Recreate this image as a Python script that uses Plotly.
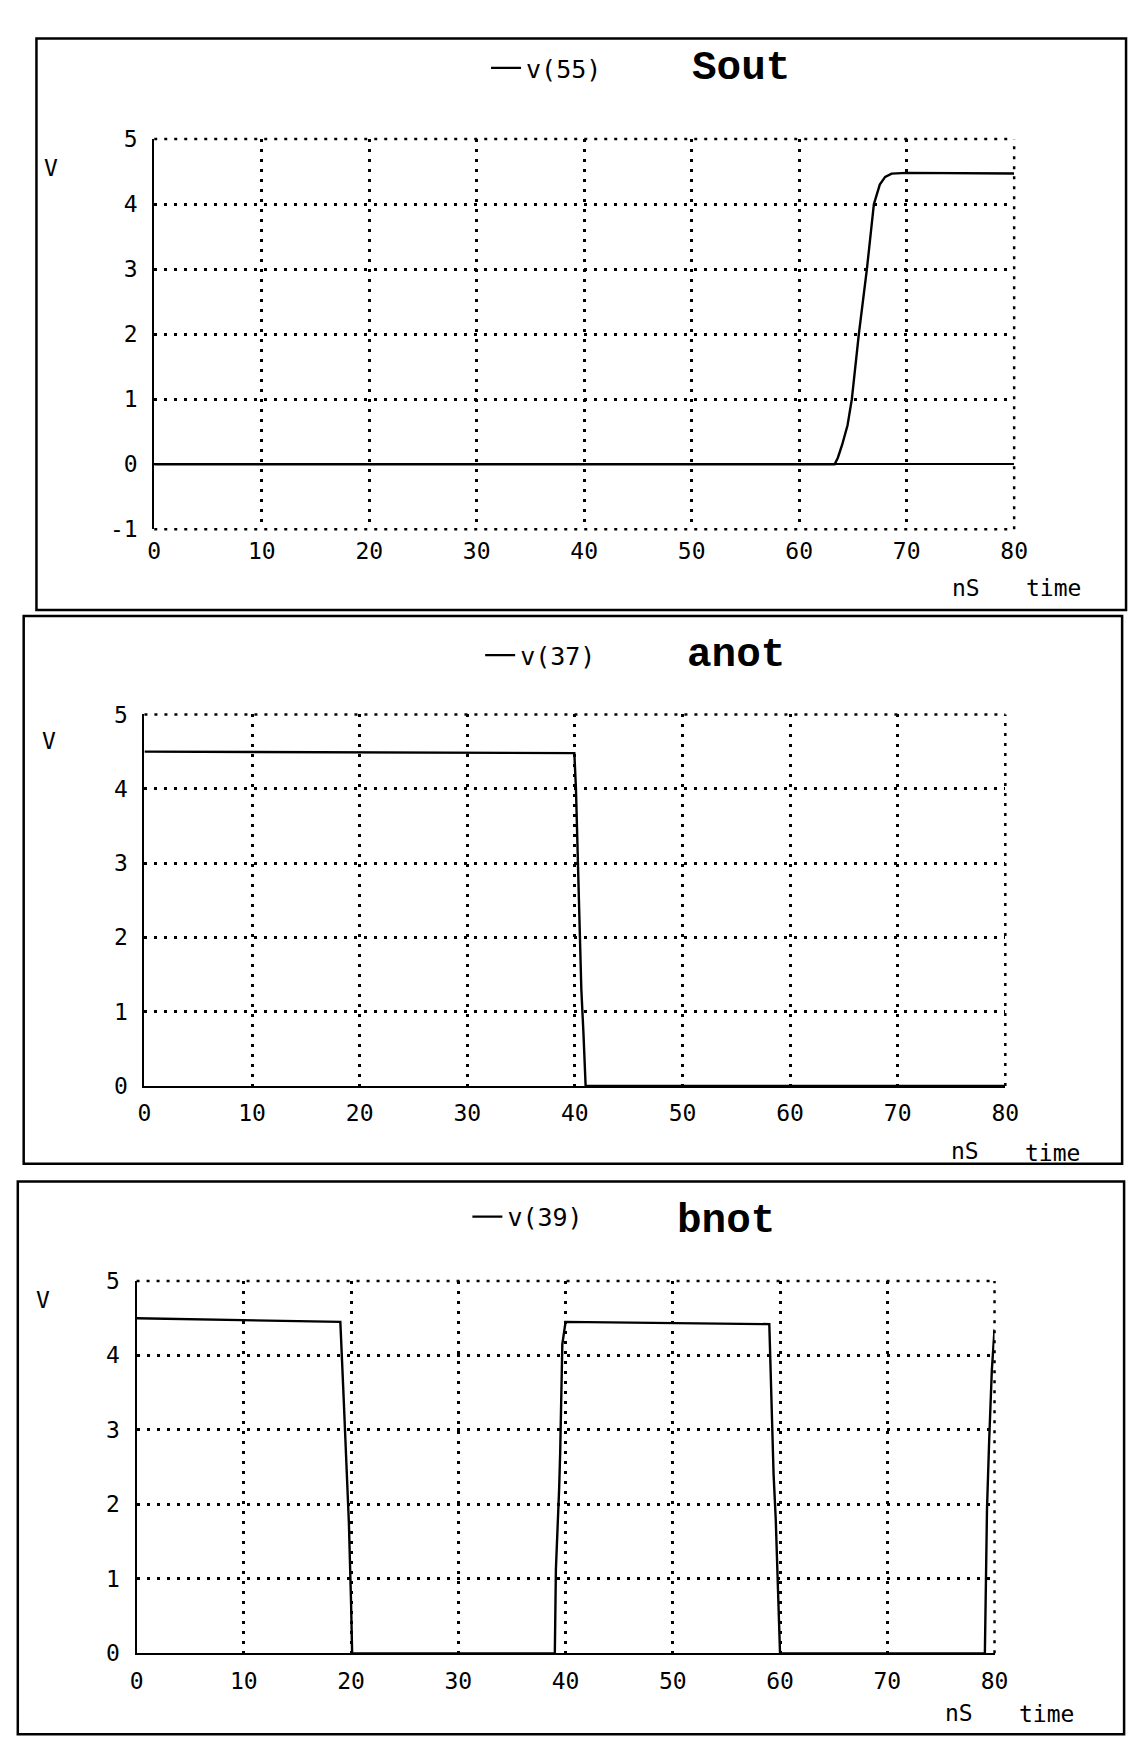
import plotly.graph_objects as go

W, H = 1143, 1756

# ---------------- data ----------------
# Panel 1: Sout, v(55)
t_v55 = [0, 63.3, 63.6, 64.0, 64.5, 64.9, 65.55, 66.3, 66.95, 67.5, 68.0, 68.6, 70.0, 80.0]
v_v55 = [0, 0.0, 0.1, 0.3, 0.6, 1.0, 2.0, 3.0, 4.0, 4.3, 4.42, 4.47, 4.48, 4.47]

# Panel 2: anot, v(37)
t_v37 = [0, 39.95, 40.1, 40.3, 40.5, 40.6, 40.8, 41.0, 80.0]
v_v37 = [4.5, 4.48, 4.0, 3.0, 2.0, 1.3, 0.7, 0.0, 0.0]

# Panel 3: bnot, v(39)
t_v39 = [0, 19.0, 19.3, 19.55, 19.8, 20.0, 20.1,
         39.0, 39.1, 39.4, 39.5, 39.7, 40.0,
         59.0, 59.2, 59.4, 59.6, 59.9, 60.0,
         79.1, 79.3, 79.5, 79.75, 80.0]
v_v39 = [4.5, 4.45, 3.46, 2.56, 1.74, 0.68, 0.0,
         0.0, 1.13, 2.2, 2.7, 4.15, 4.45,
         4.42, 3.35, 2.4, 1.8, 0.4, 0.0,
         0.0, 1.95, 2.85, 3.8, 4.35]

x_ticks = [0, 10, 20, 30, 40, 50, 60, 70, 80]
y_ticks_1 = [-1, 0, 1, 2, 3, 4, 5]
y_ticks_23 = [0, 1, 2, 3, 4, 5]

names = ["v(55)", "v(37)", "v(39)"]
titles = ["Sout", "anot", "bnot"]

# ---------------- layout geometry (pixels) ----------------
def px_x(p):
    return p / W

def px_y(p):
    return 1 - p / H

panels = [
    dict(x=(150, 1026), y=(128, 524), yr=[-1, 5], yt=y_ticks_1,
         frame=(30, 26, 1140, 606), leg=(488, 56), title=(696, 56),
         V=(45, 157), nS=(977, 584), time=(1066, 584)),
    dict(x=(140, 1017), y=(712, 1089), yr=[0, 5], yt=y_ticks_23,
         frame=(17, 612, 1136, 1168), leg=(482, 652), title=(691, 652),
         V=(43, 739), nS=(976, 1155), time=(1065, 1157)),
    dict(x=(132, 1006), y=(1287, 1665), yr=[0, 5], yt=y_ticks_23,
         frame=(11, 1186, 1138, 1747), leg=(469, 1222), title=(681, 1226),
         V=(37, 1306), nS=(970, 1726), time=(1059, 1727)),
]
series = [(t_v55, v_v55), (t_v37, v_v37), (t_v39, v_v39)]

MONO = "DejaVu Sans Mono"
DOT = "3px,7px"
GRID_W = 2.5

fig = go.Figure()
shapes = []
annotations = []
layout = dict(
    width=W, height=H,
    margin=dict(l=0, r=0, t=0, b=0),
    paper_bgcolor="white", plot_bgcolor="white",
    font=dict(family=MONO, size=23, color="black"),
)

for i, (p, (tt, vv)) in enumerate(zip(panels, series)):
    n = "" if i == 0 else str(i + 1)
    xa, ya = "x" + n, "y" + n
    leg = "legend" + n
    fig.add_trace(go.Scatter(
        x=tt, y=vv, mode="lines", name=names[i],
        line=dict(color="black", width=2.4, shape="linear"),
        xaxis=xa, yaxis=ya, legend=leg, showlegend=True,
    ))
    layout["xaxis" + n] = dict(
        domain=[px_x(p["x"][0]), px_x(p["x"][1])], anchor=ya,
        range=[0, 80], tickvals=x_ticks, ticktext=[str(v) for v in x_ticks],
        showgrid=True, gridcolor="black", gridwidth=GRID_W, griddash=DOT,
        zeroline=False, showline=(i != 0), linecolor="black", linewidth=2,
        ticks="", ticklabelstandoff=6, tickfont=dict(family=MONO, size=23),
        fixedrange=True,
    )
    layout["yaxis" + n] = dict(
        domain=[px_y(p["y"][1]), px_y(p["y"][0])], anchor=xa,
        range=p["yr"], tickvals=p["yt"], ticktext=[str(v) for v in p["yt"]],
        showgrid=True, gridcolor="black", gridwidth=GRID_W, griddash=DOT,
        zeroline=(i == 0), zerolinecolor="black", zerolinewidth=2,
        showline=True, linecolor="black", linewidth=2,
        ticks="", ticklabelstandoff=10, tickfont=dict(family=MONO, size=23),
        fixedrange=True,
    )
    # dotted border grid lines at the range ends (top, right, and bottom for panel 1)
    edge = dict(color="black", width=GRID_W, dash=DOT)
    shapes.append(dict(type="line", xref=xa + " domain", yref=ya + " domain",
                       x0=0, x1=1, y0=1, y1=1, line=edge, layer="below"))
    shapes.append(dict(type="line", xref=xa + " domain", yref=ya + " domain",
                       x0=1, x1=1, y0=0, y1=1, line=edge, layer="below"))
    if i == 0:
        shapes.append(dict(type="line", xref=xa + " domain", yref=ya + " domain",
                           x0=0, x1=1, y0=0, y1=0, line=edge, layer="below"))
    # panel frame
    fx0, fy0, fx1, fy1 = p["frame"]
    shapes.append(dict(type="rect", xref="paper", yref="paper",
                       x0=px_x(fx0), x1=px_x(fx1), y0=px_y(fy1), y1=px_y(fy0),
                       line=dict(color="black", width=2.5), fillcolor="rgba(0,0,0,0)"))
    # legend
    layout[leg] = dict(
        x=px_x(p["leg"][0]), y=px_y(p["leg"][1]), xanchor="left", yanchor="middle",
        bgcolor="rgba(0,0,0,0)", borderwidth=0, itemwidth=30,
        font=dict(family=MONO, size=25, color="black"),
    )
    # title
    annotations.append(dict(
        text=titles[i], xref="paper", yref="paper",
        x=px_x(p["title"][0]), y=px_y(p["title"][1]), xanchor="left", yanchor="middle",
        showarrow=False, font=dict(family="Liberation Mono", size=41, color="black", weight="bold"),
    ))
    for key, txt in (("V", "V"), ("nS", "nS"), ("time", "time")):
        annotations.append(dict(
            text=txt, xref="paper", yref="paper",
            x=px_x(p[key][0]), y=px_y(p[key][1]), xanchor="center", yanchor="middle",
            showarrow=False, font=dict(family=MONO, size=23, color="black"),
        ))

layout["shapes"] = shapes
layout["annotations"] = annotations
fig.update_layout(**layout)
fig.write_html("out.html")
